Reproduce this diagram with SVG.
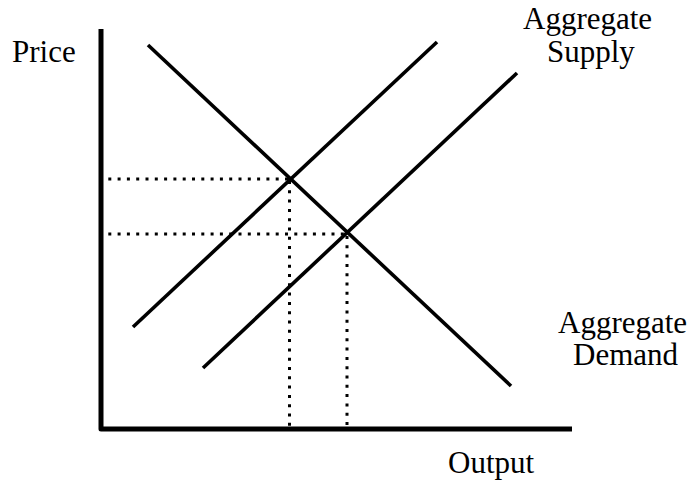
<svg xmlns="http://www.w3.org/2000/svg" width="692" height="485" viewBox="0 0 692 485">
<style>
.axis{fill:none;stroke:#000;stroke-width:5;stroke-linejoin:round}
.curve{fill:none;stroke:#000;stroke-width:3.6;stroke-linecap:butt}
.dot{fill:none;stroke:#000;stroke-width:3;stroke-dasharray:3 6.3}
.lbl{font-family:'Liberation Serif','Times New Roman',serif;font-size:31px;fill:#000}
</style>
<rect width="692" height="485" fill="#fff"/>
<g id="axes">
<path class="axis" d="M101,29 V429 H572"/>
</g>
<g id="connectors">
<line class="dot" x1="99" y1="179" x2="289" y2="179"/>
<line class="dot" x1="99" y1="234" x2="346" y2="234"/>
<line class="dot" x1="289.5" y1="181" x2="289.5" y2="428"/>
<line class="dot" x1="347" y1="236" x2="347" y2="428"/>
<line id="ad" class="curve" x1="148" y1="45" x2="511" y2="386"/>
<line id="as1" class="curve" x1="133" y1="327" x2="437" y2="42"/>
<line id="as2" class="curve" x1="203" y1="368" x2="517" y2="73"/>
</g>
<g id="label-price"><text class="lbl" x="12" y="62">Price</text></g>
<g id="label-supply">
<text class="lbl" x="523" y="29">Aggregate</text>
<text class="lbl" x="547" y="62">Supply</text>
</g>
<g id="label-demand">
<text class="lbl" x="558" y="333">Aggregate</text>
<text class="lbl" x="573" y="365">Demand</text>
</g>
<g id="label-output"><text class="lbl" x="448" y="473">Output</text></g>
</svg>
